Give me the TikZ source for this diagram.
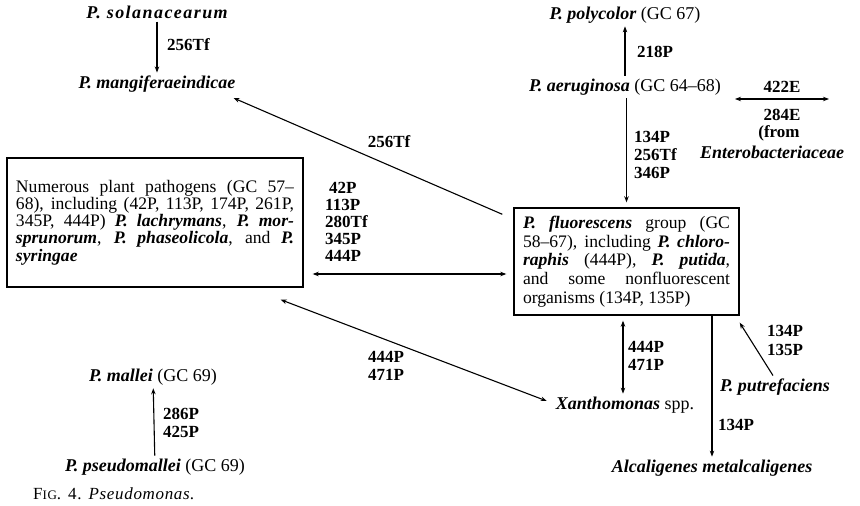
\documentclass[tikz,border=0pt]{standalone}
\usepackage{fontspec}
\setmainfont{Liberation Serif}
\newfontfamily\capfont[LetterSpace=4]{Liberation Serif}
\usetikzlibrary{arrows.meta,calc}
\newcommand\bfit[1]{\textbf{\textit{#1}}}
\tikzset{
  sp/.style={font=\bfseries\itshape, inner sep=3pt},
  txt/.style={inner sep=3pt},
  lab/.style={font=\fontsize{17}{18}\selectfont\bfseries, anchor=west, inner sep=0pt},
  arr/.style={-{Stealth[length=6pt,width=4.5pt]}, line width=1.1pt},
  darr/.style={{Stealth[length=6pt,width=4.5pt]}-{Stealth[length=6pt,width=4.5pt]}, line width=1.1pt},
  boxnode/.style={draw, line width=1.4pt, inner xsep=9pt, inner ysep=0pt, align=justify}
}
\begin{document}
\begin{tikzpicture}[x=1pt,y=-1pt]
\fontsize{18}{19}\selectfont
\tolerance=10000 \hbadness=10000 \hyphenpenalty=10000
\useasboundingbox (0,0) rectangle (860,506);
% top left
\node[sp, font=\bfseries\itshape\addfontfeature{LetterSpace=8}] (sol) at (157,12) {P. solanacearum};
\node[sp] (mang) at (157,84) {P. mangiferaeindicae};
\draw[arr] (sol) -- (mang);
\node[lab] (l1) at (167,45) {256Tf};
% top right
\node[txt] (poly) at (625,15) {\bfit{P. polycolor} (GC 67)};
\node[txt] (aer) at (625,87) {\bfit{P. aeruginosa} (GC 64–68)};
\draw[arr] (aer) -- (poly);
\node[lab] (l2) at (637,52) {218P};
\coordinate (e1) at (735,99);
\coordinate (e2) at (829,99);
\draw[darr] (e1) -- (e2);
\node[lab, anchor=center] (l3) at (782,87) {422E};
\node[lab, anchor=center] (l4) at (782,115) {284E};
\node[lab, anchor=center] (l5) at (779,133) {(from};
\node[sp, inner sep=0pt] (ent) at (772,152) {Enterobacteriaceae};
% boxes
\node[boxnode, text width=278pt, minimum height=129pt, font=\fontsize{17.6}{17.2}\selectfont] (left) at (155,222.5)
{Numerous plant pathogens (GC 57–\linebreak
68), including (42P, 113P, 174P, 261P,\linebreak
345P, 444P) \bfit{P. lachrymans}, \bfit{P. mor-}\linebreak
\bfit{sprunorum}, \bfit{P. phaseolicola}, and \bfit{P.}\linebreak
\bfit{syringae}};
\node[boxnode, text width=207pt, minimum height=107pt, font=\fontsize{17.6}{18.7}\selectfont] (fluor) at (626.5,261.5)
{\bfit{P. fluorescens} group (GC\linebreak
58–67), including \bfit{P. chloro-}\linebreak
\bfit{raphis} (444P), \bfit{P. putida},\linebreak
and some nonfluorescent\linebreak
organisms (134P, 135P)};
\draw[arr] (aer.south -| fluor.north) -- ([yshift=5pt]fluor.north);
\node[lab] (l6) at (634,137) {134P};
\node[lab] (l7) at (634,155) {256Tf};
\node[lab] (l8) at (634,173) {346P};
% left-right double arrow
\coordinate (h) at (0,274);
\draw[darr, shorten <=9pt, shorten >=7pt] (left.east |- h) -- (fluor.west |- h);
\node[lab] (l9) at (329,188) {42P};
\node[lab] (l10) at (325,205) {113P};
\node[lab] (l11) at (325,222) {280Tf};
\node[lab] (l12) at (325,239) {345P};
\node[lab] (l13) at (325,256) {444P};
% diagonal to mangiferaeindicae
\draw[arr] ([shift={(-11pt,-7pt)}]fluor.north west) -- ([shift={(-5pt,-14pt)}]mang.east);
\node[lab, anchor=center] (l14) at (389,142) {256Tf};
% below fluor
\node[sp] (xan) at (625,405) {Xanthomonas \textup{\mdseries spp.}};
\coordinate (xv) at (623,0);
\draw[darr, shorten <=5pt] (fluor.south -| xv) -- (xan.north -| xv);
\node[lab] (l15) at (628,347) {444P};
\node[lab] (l16) at (628,365) {471P};
\node[sp] (alc) at (712,468) {Alcaligenes metalcaligenes};
\draw[arr] (fluor.south -| alc) -- (alc);
\node[lab] (l17) at (718,425) {134P};
\node[sp] (put) at (775,387) {P. putrefaciens};
\draw[arr] ([xshift=-2pt]put.north) -- ([yshift=-7pt]fluor.south east);
\node[lab] (l18) at (767,331) {134P};
\node[lab] (l19) at (767,350) {135P};
% left box to Xanthomonas
\draw[darr] ([shift={(-23pt,-12pt)}]left.south east) -- ([shift={(-6pt,4pt)}]xan.west);
\node[lab] (l20) at (368,357) {444P};
\node[lab] (l21) at (368,375) {471P};
% bottom left
\node[txt] (mal) at (153,377) {\bfit{P. mallei} (GC 69)};
\node[txt] (pse) at (155,467) {\bfit{P. pseudomallei} (GC 69)};
\draw[arr] (pse) -- (mal);
\node[lab] (l22) at (163,414) {286P};
\node[lab] (l23) at (163,432) {425P};
\node[anchor=west, inner sep=0pt, font=\capfont\fontsize{17}{18}\selectfont] (cap) at (33,494) {F{\fontsize{13}{14}\selectfont IG}.\hspace{7pt}4.\hspace{7pt}\textit{Pseudomonas}.};
\end{tikzpicture}
\end{document}
